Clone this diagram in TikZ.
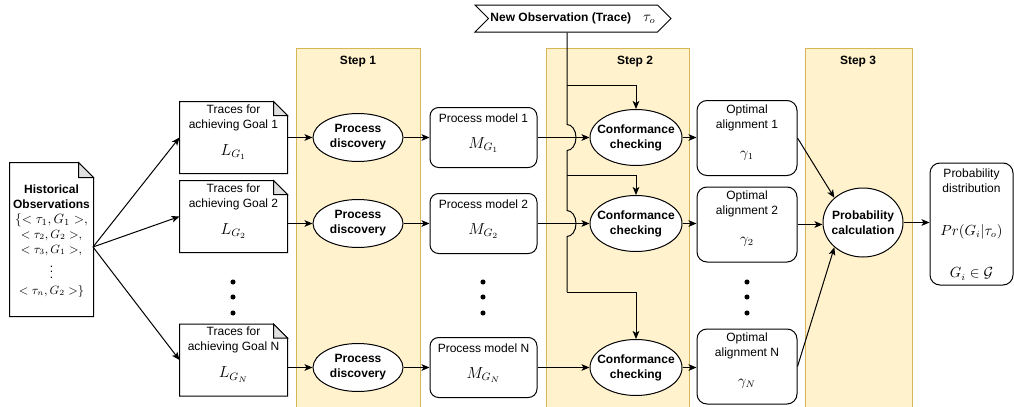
\documentclass[tikz,border=0pt]{standalone}
\usepackage[no-math]{fontspec}
\setmainfont{Liberation Sans}
\usepackage{amsmath}
\usepackage{amssymb}
\usetikzlibrary{arrows.meta,shapes.geometric,shapes.symbols,calc}

\definecolor{stepfill}{HTML}{FFF2CC}
\definecolor{stepline}{HTML}{D6B656}

\tikzset{
  band/.style={fill=stepfill, draw=stepline},
  txt/.style={font=\fontsize{9}{11.25}\selectfont, align=center, inner sep=0pt},
  bold/.style={txt, font=\fontsize{9}{11.25}\selectfont\bfseries},
  mth/.style={font=\fontsize{10.5}{12}\selectfont, inner sep=0pt},
  bigmth/.style={font=\fontsize{12}{14}\selectfont, inner sep=0pt},
  doc/.style={minimum width=80.25pt, minimum height=53.25pt, inner sep=0pt},
  modelbox/.style={draw, fill=white, rounded corners=6.5pt, minimum width=80.25pt, minimum height=45pt},
  alignbox/.style={draw, fill=white, rounded corners=7.5pt, minimum width=75pt, minimum height=56.25pt},
  oval/.style={ellipse, draw, fill=white, inner sep=0pt},
  link/.style={-{Stealth[length=6pt,width=5pt,inset=1.5pt]}},
}

\begin{document}
\begin{tikzpicture}[x=0.75pt, y=-0.75pt, line width=0.75pt]
  \useasboundingbox (0,0) rectangle (1014,407);

  % steps
  \draw[band] (296,48) rectangle (420,412);
  \draw[band] (546,48) rectangle (689,412);
  \draw[band] (805,48) rectangle (912,412);
  \node[bold] (step1) at (358,62) {Step 1};
  \node[bold] (step2) at (635,62) {Step 2};
  \node[bold] (step3) at (858,62) {Step 3};

  % history
  \node[doc, minimum width=62.25pt, minimum height=114.75pt] (hist) at (51.5,239.5) {};
  \node[txt] (histtxt) at (51.5,241) {\textbf{Historical}\\\textbf{Observations}\\\fontsize{10}{10.6}\selectfont$\{<\tau_1,G_1>,$\\$<\tau_2,G_2>,$\\$<\tau_3,G_1>,$\\[1pt]$\vdots$\\[1pt]$<\tau_n,G_2>\}$};
  \coordinate (fan) at (93,247);

  \foreach \k/\y/\dy/\ay in {1/137.5/137.5/138, 2/223.5/216.5/224.5, N/367.5/360/366.5}
  {
  \node[doc] (doc\k) at (233.5,\dy) {};
  \node[txt] (tr\k) at (233.5,\dy-20) {Traces for\\achieving Goal \k};
  \node[bigmth] (lg\k) at (233.5,\dy+14.5) {$L_{G_\k}$};
  \node[oval, minimum width=67.5pt, minimum height=36pt, label={[bold]center:Process\\discovery}] (disc\k) at (358,\y) {};
  \node[modelbox] (model\k) at (483.5,\y) {};
  \node[txt] (pm\k) at (483.5,\y-19.5) {Process model \k};
  \node[bigmth] (mg\k) at (483.5,\y+7.5) {$M_{G_\k}$};
  \node[oval, minimum width=69pt, minimum height=42pt, label={[bold]center:Conformance\\checking}] (conf\k) at (636,\y) {};
  \node[alignbox] (align\k) at (747,\ay) {};
  \node[txt] (oa\k) at (747,\ay-20.5) {Optimal\\alignment \k};
  \node[mth] (ga\k) at (747,\ay+17.5) {$\gamma_\k$};
  \draw[link] (fan) -- (doc\k.west);
  \draw[link] (doc\k.east |- disc\k) -- (disc\k);
  \draw[link] (disc\k) -- (model\k);
  \draw[link] (model\k) -- (conf\k);
  \draw[link] (conf\k) -- (align\k.west |- conf\k);
  }

  % documents with folded corner
  \foreach \d/\f in {hist/11.25pt, doc1/10.5pt, doc2/10.5pt, docN/10.5pt}
  {
  \draw (\d.north west) -- ([xshift=-\f]\d.north east) -- ([yshift=-\f]\d.north east) -- (\d.south east) -- (\d.south west) -- cycle;
  \filldraw[fill=black!12] ([xshift=-\f]\d.north east) -- ([xshift=-\f,yshift=-\f]\d.north east) -- ([yshift=-\f]\d.north east) -- cycle;
  }

  % dots
  \foreach \x in {233,483,747}
  \foreach \yy in {282,297,313}
  {
  \fill (\x,\yy) circle (1.9pt);
  }

  % new observation
  \node[signal, draw, fill=white, signal to=east, signal from=west, signal pointer angle=90,
        minimum width=147pt, minimum height=20.25pt, txt] (obs) at (573,18.5)
        {\textbf{New Observation (Trace)}\quad{\fontsize{10.5}{12}\selectfont$\tau_o$}};
  \coordinate (sp1) at (567,85);
  \coordinate (sp2) at (567,175);
  \coordinate (sp3) at (567,292);
  \draw (obs.south -| sp1) -- ($(sp1 |- conf1)+(0,-13)$)
        arc[start angle=90, end angle=-90, x radius=6.75pt, y radius=9.75pt]
        -- ($(sp1 |- conf2)+(0,-13)$)
        arc[start angle=90, end angle=-90, x radius=6.75pt, y radius=9.75pt]
        -- (sp3);
  \draw[link] (sp1) -| (conf1.north);
  \draw[link] (sp2) -| (conf2.north);
  \draw[link] (sp3) -| (confN.north);

  % step 3
  \node[oval, minimum width=60pt, minimum height=51.75pt, label={[bold]center:Probability\\calculation}] (prob) at (863,222.5) {};
  \node[alignbox, minimum width=62.25pt, minimum height=91.5pt] (dist) at (971.5,224) {};
  \node[txt] (disttxt) at (971.5,180.5) {Probability\\distribution};
  \node[mth] (pr) at (971.5,232) {$Pr(G_i|\tau_o)$};
  \node[mth] (gi) at (971.5,274) {$G_i\in\mathcal{G}$};
  \draw[link] (align1.east) -- (prob.north west);
  \draw[link] (align2.east) -- (align2.east -| prob.west);
  \draw[link] (alignN.east) -- (prob.south west);
  \draw[link] (prob.east) -- (prob.east -| dist.west);

\end{tikzpicture}
\end{document}
